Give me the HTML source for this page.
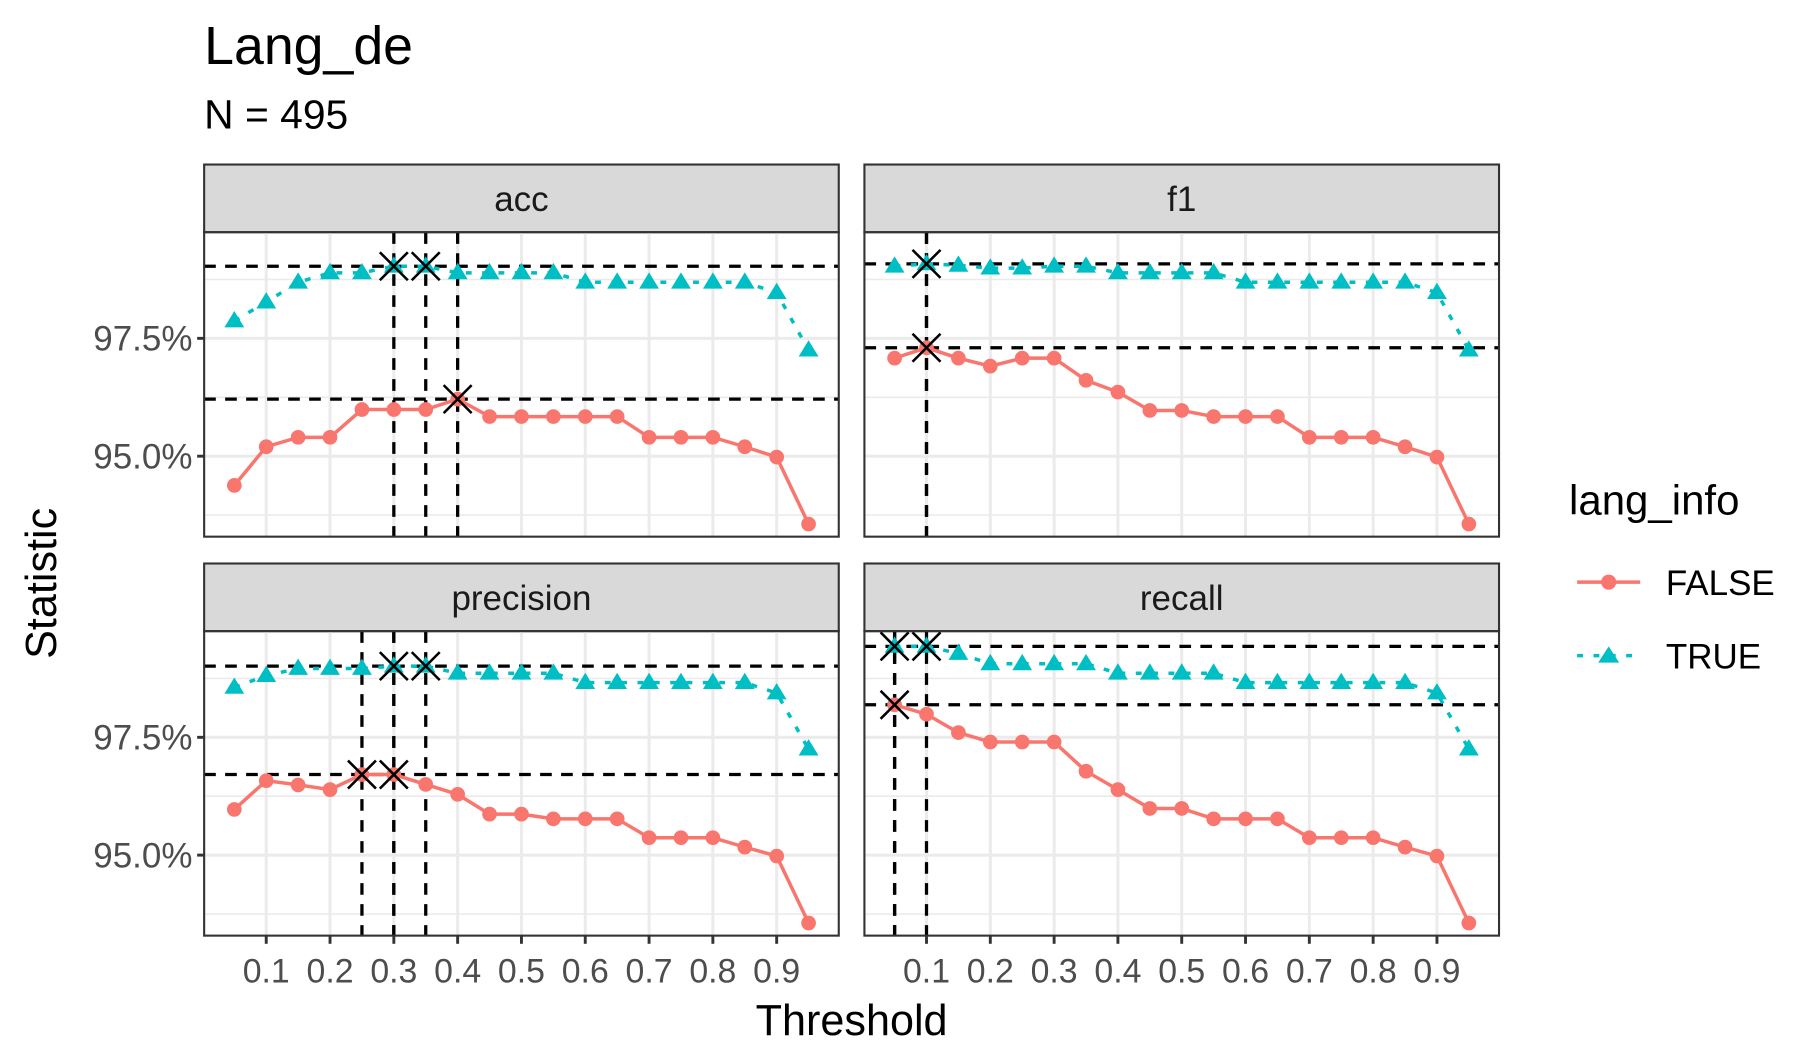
<!DOCTYPE html>
<html><head><meta charset="utf-8"><style>
html,body{margin:0;padding:0;background:#fff}
svg{display:block}
text{font-family:"Liberation Sans",Arial,sans-serif}
</style></head><body>
<svg id="chart" width="1800" height="1050" viewBox="0 0 1543 900" xmlns="http://www.w3.org/2000/svg">
<text x="175" y="55" font-size="46" fill="#000">Lang_de</text>
<text x="175" y="110" font-size="35" fill="#000">N = 495</text>
<text x="730" y="887" font-size="37" text-anchor="middle">Threshold</text>
<text x="48" y="500" font-size="37" text-anchor="middle" transform="rotate(-90 48 500)">Statistic</text>
<g id="panels"></g>
<g>
<text x="1345" y="441" font-size="36">lang_info</text>
<line x1="1352" y1="499" x2="1406" y2="499" stroke="#F8766D" stroke-width="3"/>
<circle cx="1379" cy="499" r="6.5" fill="#F8766D"/>
<text x="1428" y="510" font-size="30">FALSE</text>
<line x1="1352" y1="562" x2="1406" y2="562" stroke="#00BFC4" stroke-width="3" stroke-dasharray="5,9"/>
<polygon points="1379,554 1388,568 1370,568" fill="#00BFC4"/>
<text x="1428" y="573" font-size="30">TRUE</text>
</g>
</svg>
<script>
const thresholds=[0.05,0.1,0.15,0.2,0.25,0.3,0.35,0.4,0.45,0.5,0.55,0.6,0.65,0.7,0.75,0.8,0.85,0.9,0.95];
const metrics=["acc","f1","precision","recall"];
const accFalse=[94.38,95.20,95.40,95.40,95.99,95.99,95.99,96.21,95.84,95.84,95.84,95.84,95.84,95.40,95.40,95.40,95.20,94.98,93.56];
const accTrue=[97.87,98.27,98.69,98.89,98.89,99.03,99.03,98.89,98.89,98.89,98.89,98.69,98.69,98.69,98.69,98.69,98.69,98.47,97.25];
const f1False=[97.08,97.30,97.08,96.91,97.08,97.08,96.61,96.36,95.97,95.97,95.84,95.84,95.84,95.40,95.40,95.40,95.20,94.98,93.56];
const f1True=[99.03,99.08,99.05,98.99,98.99,99.03,99.03,98.89,98.89,98.89,98.89,98.69,98.69,98.69,98.69,98.69,98.69,98.47,97.25];
const precFalse=[95.97,96.58,96.49,96.39,96.71,96.71,96.50,96.29,95.87,95.87,95.77,95.77,95.77,95.37,95.37,95.37,95.17,94.98,93.56];
const precTrue=[98.56,98.81,98.96,98.96,98.96,99.01,99.01,98.86,98.86,98.86,98.86,98.66,98.66,98.66,98.66,98.66,98.66,98.44,97.25];
const recFalse=[98.19,97.99,97.60,97.40,97.40,97.40,96.78,96.39,95.99,95.99,95.77,95.77,95.77,95.37,95.37,95.37,95.17,94.98,93.56];
const recTrue=[99.43,99.43,99.28,99.06,99.06,99.06,99.06,98.86,98.86,98.86,98.86,98.66,98.66,98.66,98.66,98.66,98.66,98.44,97.25];
const seriesFalse=[accFalse,f1False,precFalse,recFalse];
const seriesTrue=[accTrue,f1True,precTrue,recTrue];
const xTicks=[0.1,0.2,0.3,0.4,0.5,0.6,0.7,0.8,0.9];
const yTicks=[95,97.5];
const yTickLabels=["95.0%","97.5%"];
const yMinor=[93.75,96.25,98.75];

const NS="http://www.w3.org/2000/svg";
const root=document.getElementById("panels");
function mk(tag,attrs,parent){const e=document.createElementNS(NS,tag);for(const k in attrs)e.setAttribute(k,attrs[k]);(parent||root).appendChild(e);return e;}
const PW=544, xmin=0.0027, xmax=0.9973;
const panelPos=[[175,141],[741,141],[175,483],[741,483]];
metrics.forEach((m,i)=>{
  const [px,py]=panelPos[i];
  const top=py+58, bot=py+319;
  const g=mk("g",{});
  
  
  const X=t=>px+(t-xmin)/(xmax-xmin)*PW;
  const Y=v=>(top+91)-(v-97.5)*40.4;
  const strip=mk("rect",{x:px,y:py,width:PW,height:58,fill:"#D9D9D9",stroke:"#333","stroke-width":1.8},g);
  
  
  const st=mk("text",{x:px+PW/2,y:py+40,"font-size":30,"text-anchor":"middle",fill:"#1a1a1a"},g);st.textContent=m;
  
  
  yMinor.forEach(v=>mk("line",{x1:px,x2:px+PW,y1:Y(v),y2:Y(v),stroke:"#EBEBEB","stroke-width":1.4},g));
  yTicks.forEach(v=>mk("line",{x1:px,x2:px+PW,y1:Y(v),y2:Y(v),stroke:"#EBEBEB","stroke-width":2.6},g));
  xTicks.forEach(t=>mk("line",{x1:X(t),x2:X(t),y1:top,y2:bot,stroke:"#EBEBEB","stroke-width":2.6},g));
  [seriesFalse[i],seriesTrue[i]].forEach(s=>{
    const mx=Math.max(...s);
    mk("line",{x1:px,x2:px+PW,y1:Y(mx),y2:Y(mx),stroke:"#000","stroke-width":2.8,"stroke-dasharray":"10,8"},g);
    s.forEach((v,j)=>{if(v===mx)mk("line",{x1:X(thresholds[j]),x2:X(thresholds[j]),y1:top,y2:bot,stroke:"#000","stroke-width":2.8,"stroke-dasharray":"10,8"},g);});
  });
  const pf=seriesFalse[i].map((v,j)=>X(thresholds[j])+","+Y(v)).join(" ");
  const lf=mk("polyline",{points:pf,fill:"none",stroke:"#F8766D","stroke-width":3},g);
  
  
  seriesFalse[i].forEach((v,j)=>{const c=mk("circle",{cx:X(thresholds[j]),cy:Y(v),r:6.3,fill:"#F8766D"},g);
    
    });
  const pt=seriesTrue[i].map((v,j)=>X(thresholds[j])+","+Y(v)).join(" ");
  const lt=mk("polyline",{points:pt,fill:"none",stroke:"#00BFC4","stroke-width":3,"stroke-dasharray":"5,9"},g);
  
  
  seriesTrue[i].forEach((v,j)=>{const x=X(thresholds[j]),y=Y(v);const p=mk("polygon",{points:`${x},${y-8.5} ${x+8.5},${y+5.5} ${x-8.5},${y+5.5}`,fill:"#00BFC4"},g);
    
    });
  [seriesFalse[i],seriesTrue[i]].forEach(s=>{
    const mx=Math.max(...s);
    s.forEach((v,j)=>{if(v===mx){const x=X(thresholds[j]),y=Y(v),d=12;
      mk("path",{d:`M${x-d},${y-d}L${x+d},${y+d}M${x-d},${y+d}L${x+d},${y-d}`,stroke:"#000","stroke-width":2.2,fill:"none"},g);}});
  });
  mk("rect",{x:px,y:top,width:PW,height:bot-top,fill:"none",stroke:"#333","stroke-width":1.8},g);
  if(i%2===0){
    yTicks.forEach((v,k)=>{mk("line",{x1:px-6,x2:px,y1:Y(v),y2:Y(v),stroke:"#333","stroke-width":2.5},g);
      const t=mk("text",{x:px-10,y:Y(v)+10.5,"font-size":30,"text-anchor":"end",fill:"#4D4D4D"},g);t.textContent=yTickLabels[k];
      
      });
  }
  if(i>=2){
    xTicks.forEach(t=>{mk("line",{x1:X(t),x2:X(t),y1:bot,y2:bot+7,stroke:"#333","stroke-width":2.5},g);
      const tx=mk("text",{x:X(t),y:bot+40,"font-size":29,"text-anchor":"middle",fill:"#4D4D4D"},g);tx.textContent=String(t);
      
      });
  }
});
</script>
</body></html>
